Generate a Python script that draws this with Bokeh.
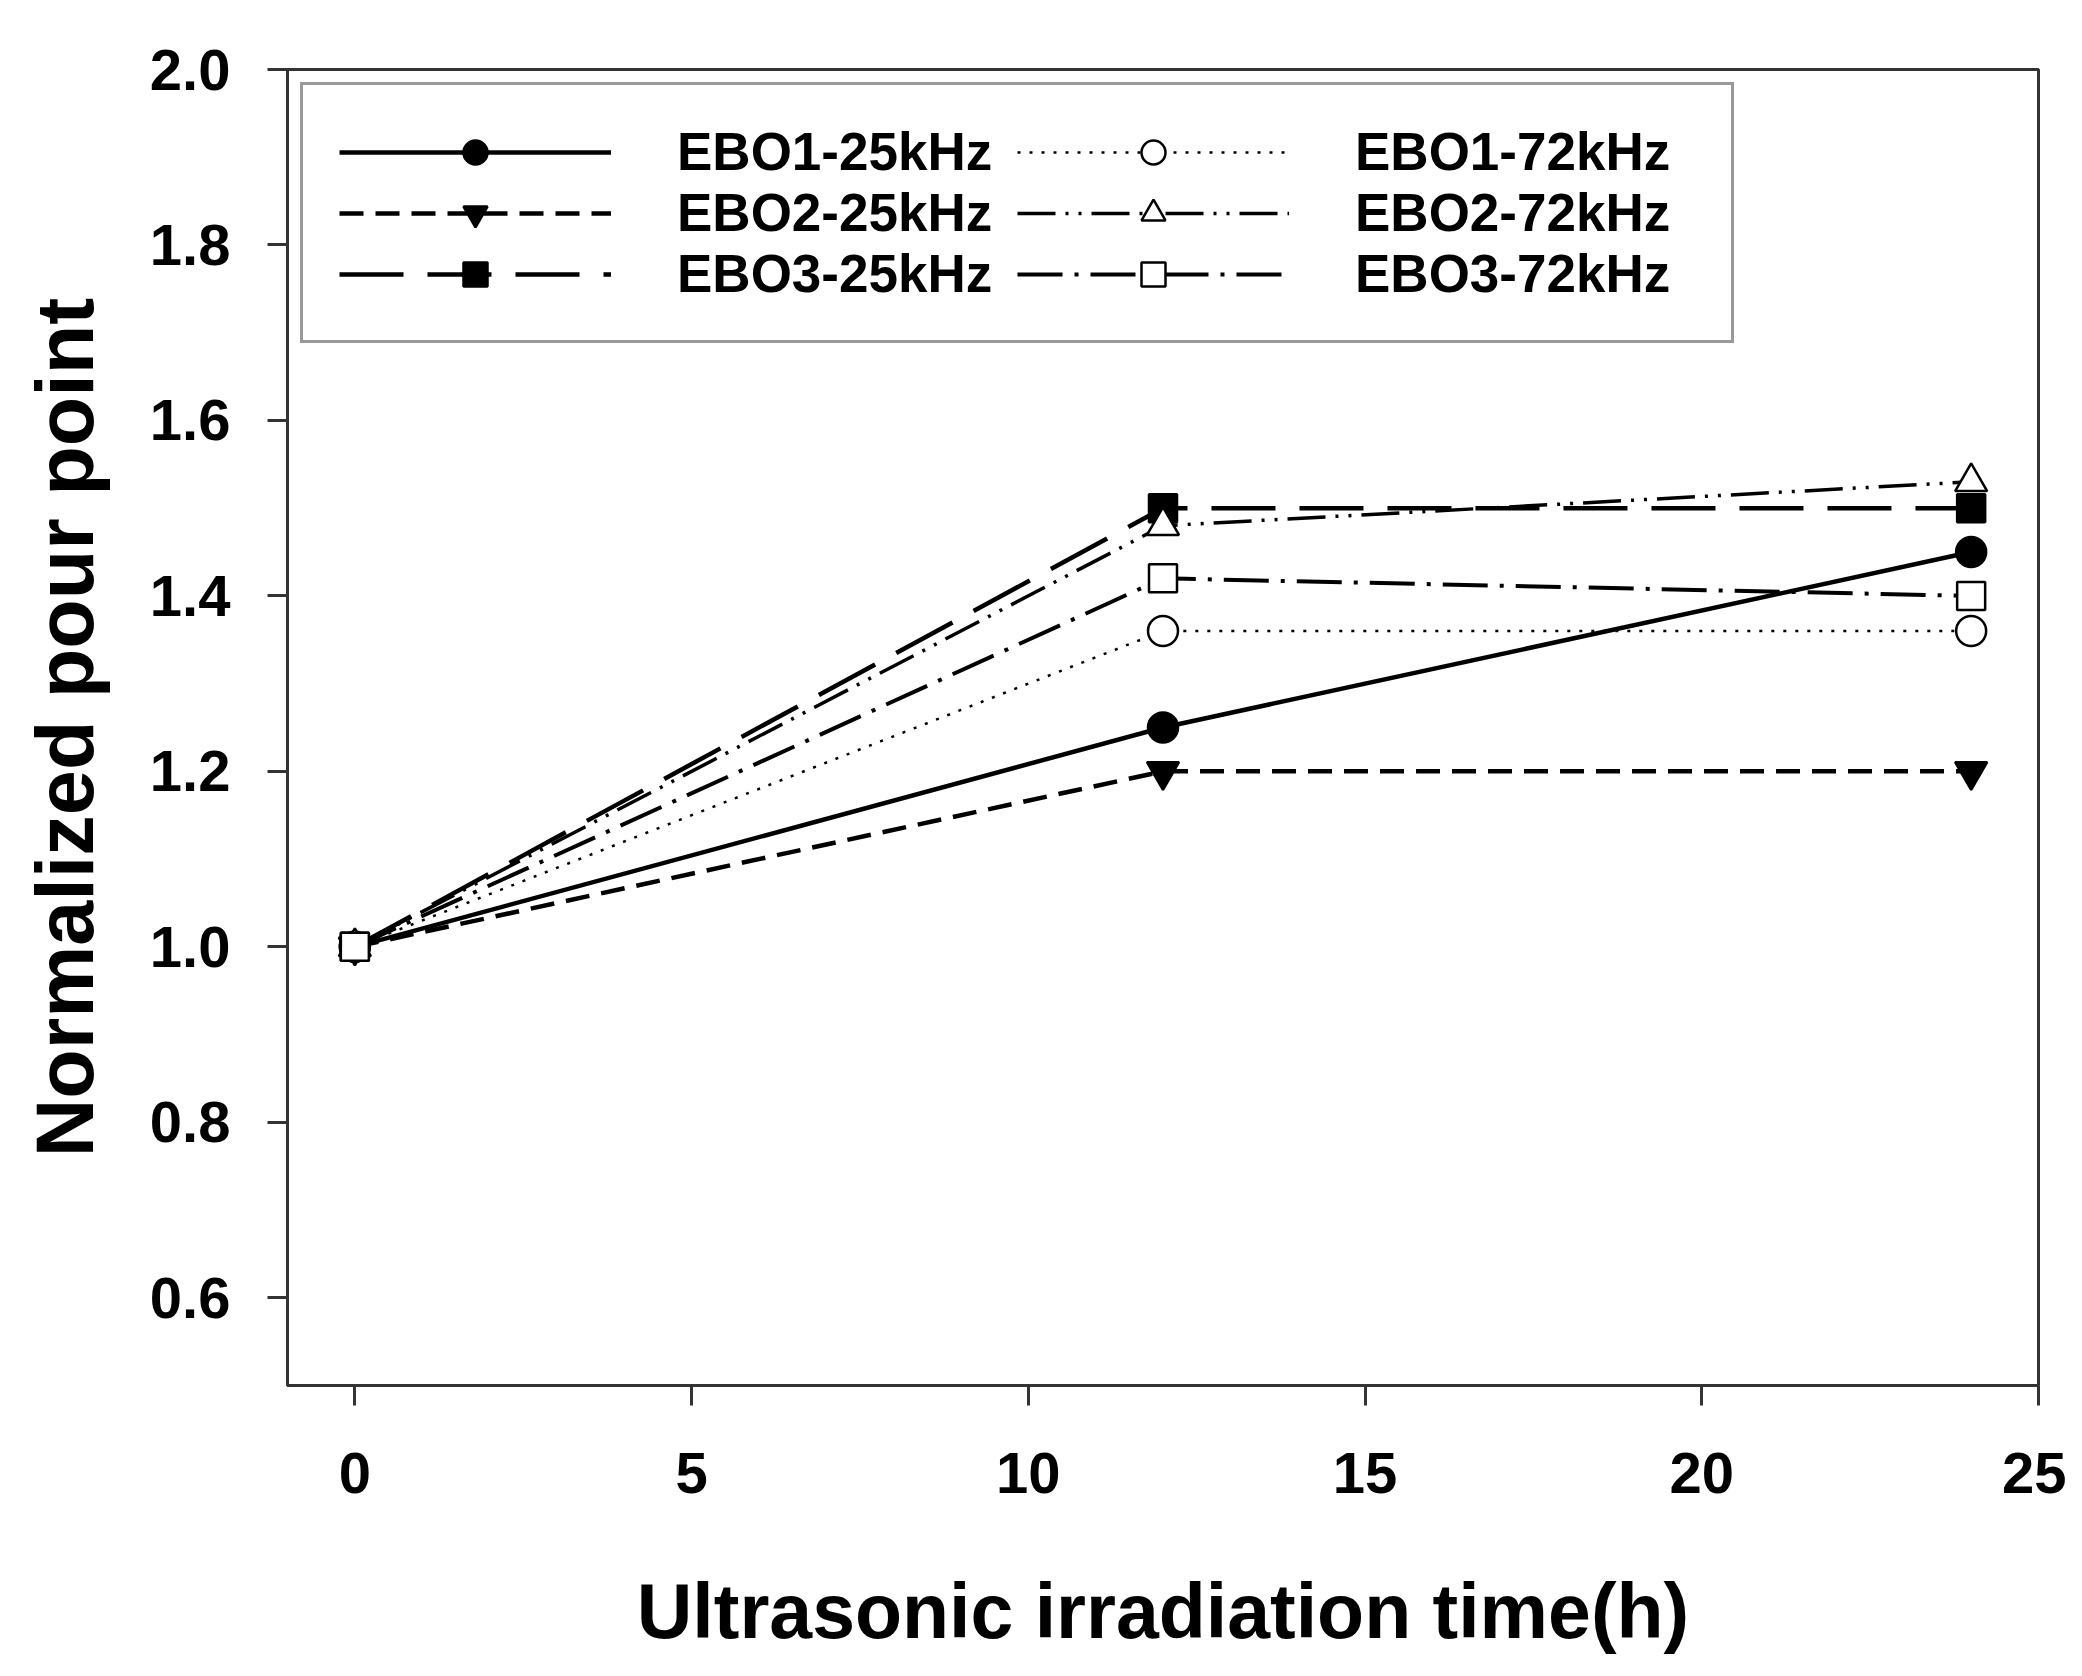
from bokeh.plotting import figure
from bokeh.models import Range1d, FixedTicker, Legend, LegendItem, NumeralTickFormatter
from bokeh.embed import file_html
from bokeh.resources import INLINE

# ---- data ----
time_h = [0, 12, 24]
ebo1_25 = [1.00, 1.25, 1.45]
ebo2_25 = [1.00, 1.20, 1.20]
ebo3_25 = [1.00, 1.50, 1.50]
ebo1_72 = [1.00, 1.36, 1.36]
ebo2_72 = [1.00, 1.48, 1.53]
ebo3_72 = [1.00, 1.42, 1.40]
series_names = ["EBO1-25kHz", "EBO2-25kHz", "EBO3-25kHz",
                "EBO1-72kHz", "EBO2-72kHz", "EBO3-72kHz"]
x_ticks = [0, 5, 10, 15, 20, 25]
y_ticks = [0.6, 0.8, 1.0, 1.2, 1.4, 1.6, 1.8, 2.0]
x_label = "Ultrasonic irradiation time(h)"
y_label = "Normalized pour point"

series_values = [ebo1_25, ebo2_25, ebo3_25, ebo1_72, ebo2_72, ebo3_72]

# ---- styles ----
styles = [
    dict(dash="solid", lw=4.5, marker="circle", size=30, fill="black"),
    dict(dash="24 12", lw=4.5, marker="inverted_triangle", size=32, fill="black"),
    dict(dash="64 24", lw=4.5, marker="square", size=28, fill="black"),
    dict(dash="3 9", lw=2.5, marker="circle", size=30, fill="white"),
    dict(dash="38 10 3 10 3 10", lw=3.5, marker="triangle", size=32, fill="white"),
    dict(dash="45 12 4 12", lw=4, marker="square", size=28, fill="white"),
]

FONT = "Liberation Sans"
AX = "#333333"

p = figure(width=2066, height=1660, output_backend="svg", toolbar_location=None,
           x_range=Range1d(-1, 25), y_range=Range1d(0.5, 2.0),
           min_border_left=287, min_border_right=28, min_border_top=69,
           min_border_bottom=275)
p.grid.visible = False
p.outline_line_color = AX
p.outline_line_width = 3
p.background_fill_color = "white"
p.border_fill_color = "white"

items = []
for name, vals, st in zip(series_names, series_values, styles):
    ln = p.line(time_h, vals, line_color="black", line_width=st["lw"], line_dash=st["dash"])
    sc = p.scatter(time_h, vals, marker=st["marker"], size=st["size"],
                   fill_color=st["fill"], line_color="black", line_width=2.5)
    items.append(LegendItem(label=name, renderers=[ln, sc]))

for ax in (p.xaxis[0], p.yaxis[0]):
    ax.axis_line_color = AX
    ax.axis_line_width = 3
    ax.major_tick_line_color = AX
    ax.major_tick_line_width = 3
    ax.major_tick_out = 20
    ax.major_tick_in = 0
    ax.minor_tick_out = 0
    ax.minor_tick_in = 0
    ax.major_label_text_font = FONT
    ax.major_label_text_font_style = "bold"
    ax.major_label_text_font_size = "58px"
    ax.major_label_text_color = "black"
    ax.axis_label_text_font = FONT
    ax.axis_label_text_font_style = "bold"
    ax.axis_label_text_color = "black"

p.xaxis[0].axis_label_text_font_size = "77px"
p.yaxis[0].axis_label_text_font_size = "81px"
p.xaxis[0].axis_label_text_line_height = 0.8
p.xaxis[0].major_label_text_line_height = 0.8
p.xaxis[0].ticker = FixedTicker(ticks=x_ticks)
p.yaxis[0].ticker = FixedTicker(ticks=y_ticks)
p.yaxis[0].formatter = NumeralTickFormatter(format="0.0")
p.xaxis[0].axis_label = x_label
p.yaxis[0].axis_label = y_label
p.xaxis[0].major_label_standoff = 47
p.yaxis[0].major_label_standoff = 37
p.xaxis[0].axis_label_standoff = 72
p.yaxis[0].axis_label_standoff = 37

legend = Legend(items=items, location="top_left", orientation="vertical", nrows=3,
                glyph_width=272, glyph_height=60, label_standoff=66, spacing=0,
                label_width=340, padding=36, margin=13,
                label_text_font=FONT, label_text_font_style="bold",
                label_text_font_size="53px", label_text_line_height=1.0,
                label_text_color="black",
                border_line_color=AX, border_line_width=3,
                background_fill_color="white", background_fill_alpha=1.0)
p.add_layout(legend, "center")

open("out.html", "w").write(file_html(p, INLINE))
